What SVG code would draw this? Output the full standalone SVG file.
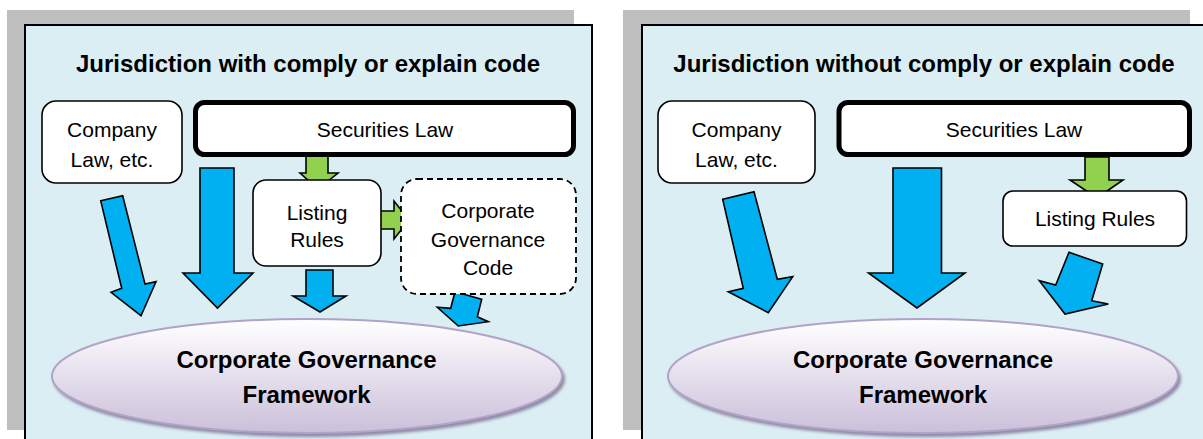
<svg xmlns="http://www.w3.org/2000/svg" width="1203" height="439" viewBox="0 0 1203 439">
  <defs>
    <linearGradient id="ellGrad" x1="0" y1="0" x2="0" y2="1">
      <stop offset="0" stop-color="#FFFFFF"/>
      <stop offset="1" stop-color="#CBBFDA"/>
    </linearGradient>
    <filter id="blur" x="-10%" y="-10%" width="120%" height="130%">
      <feGaussianBlur stdDeviation="1.5"/>
    </filter>
  </defs>
  <style>
    .shadow { fill: #BFBFBF; }
    .panel { fill: #DAEEF3; stroke: #000000; stroke-width: 2; }
    .box { fill: #FFFFFF; stroke: #000000; stroke-width: 1.6; }
    .thick { fill: #FFFFFF; stroke: #000000; stroke-width: 5; }
    .dashed { fill: #FFFFFF; stroke: #000000; stroke-width: 1.8; stroke-dasharray: 6 4; }
    .blue { fill: #00B0F0; stroke: #000000; stroke-width: 1.6; stroke-linejoin: miter; }
    .green { fill: #92D050; stroke: #000000; stroke-width: 1.6; stroke-linejoin: miter; }
    .ell { fill: url(#ellGrad); stroke: #B3A2C7; stroke-width: 2; }
    .ellsh { fill: #8F8AA6; filter: url(#blur); }
    text { font-family: "Liberation Sans", Arial, sans-serif; fill: #000000; text-anchor: middle; }
    .title { font-size: 24px; font-weight: bold; }
    .lbl { font-size: 21px; }
    .big { font-size: 24px; font-weight: bold; }
  </style>

  <!-- Left panel -->
  <g id="panel-left">
    <rect class="shadow" x="7" y="10" width="567" height="420"/>
    <rect class="panel" x="25" y="25" width="567" height="430"/>
    <text class="title" x="308" y="72">Jurisdiction with comply or explain code</text>
  </g>

  <!-- Right panel -->
  <g id="panel-right">
    <rect class="shadow" x="623" y="10" width="567" height="420"/>
    <rect class="panel" x="642" y="25" width="580" height="430"/>
    <text class="title" x="924" y="72">Jurisdiction without comply or explain code</text>
  </g>

  <!-- Connectors (block arrows) -->
  <g id="connectors">
    <!-- left panel -->
    <polygon class="green" points="306,156 328,156 328,173 338,173 318,189 300,173 306,173"/>
    <polygon class="green" points="377,211 394,211 394,201 409,220 394,239 394,229 377,229"/>
    <polygon class="blue" points="100.7,200.7 122.7,195.7 145,284 156,281.7 141,315.7 111,292.3 121.7,288.3"/>
    <polygon class="blue" points="200,168 234,168 234,273 253,273 217.5,308 183,273 200,273"/>
    <polygon class="blue" points="306,270 333,270 333,296 346,296 320,312 293,296 306,296"/>
    <polygon class="blue" points="455,291.7 481.7,299.3 477.3,316.7 488.3,321.7 458.3,326 437.3,307.3 450.7,308.3"/>
    <!-- right panel -->
    <polygon class="green" points="1085,157 1109,157 1109,180 1123,180 1097,198 1070,180 1085,180"/>
    <polygon class="blue" points="722.7,199.3 754,191.7 777.3,279.3 792.7,276.7 768.3,312.7 728.3,291.7 743.3,288.3"/>
    <polygon class="blue" points="893,168 941.5,168 941.5,273 965,273 917,308 868.5,273 893,273"/>
    <polygon class="blue" points="1069,252.3 1102.7,264 1091.7,300.7 1108.3,304 1065,314 1039.3,280.7 1055.7,285"/>
  </g>

  <!-- Left nodes -->
  <g id="left-company-law">
    <rect class="box" x="42" y="101" width="140" height="82" rx="14"/>
    <text class="lbl" x="112" y="137">Company</text>
    <text class="lbl" x="112" y="167">Law, etc.</text>
  </g>
  <g id="left-securities-law">
    <rect class="thick" x="195.5" y="102.5" width="378" height="52" rx="9"/>
    <text class="lbl" x="385" y="137">Securities Law</text>
  </g>
  <g id="left-listing-rules">
    <rect class="box" x="253" y="180" width="128" height="86" rx="13"/>
    <text class="lbl" x="317" y="220">Listing</text>
    <text class="lbl" x="317" y="247">Rules</text>
  </g>
  <g id="left-cg-code">
    <rect class="dashed" x="401" y="179" width="175" height="115" rx="16"/>
    <text class="lbl" x="488" y="218">Corporate</text>
    <text class="lbl" x="488" y="247">Governance</text>
    <text class="lbl" x="488" y="275">Code</text>
  </g>
  <g id="left-framework">
    <ellipse class="ellsh" cx="309" cy="379" rx="256" ry="58"/>
    <ellipse class="ell" cx="307" cy="376" rx="255" ry="57"/>
    <text class="big" x="306.5" y="368">Corporate Governance</text>
    <text class="big" x="306.5" y="403">Framework</text>
  </g>

  <!-- Right nodes -->
  <g id="right-company-law">
    <rect class="box" x="658" y="101" width="157" height="82" rx="14"/>
    <text class="lbl" x="736.5" y="137">Company</text>
    <text class="lbl" x="736.5" y="167">Law, etc.</text>
  </g>
  <g id="right-securities-law">
    <rect class="thick" x="839" y="102.5" width="350.5" height="52" rx="9"/>
    <text class="lbl" x="1014" y="137">Securities Law</text>
  </g>
  <g id="right-listing-rules">
    <rect class="box" x="1003" y="191" width="183.5" height="55" rx="10"/>
    <text class="lbl" x="1095" y="226">Listing Rules</text>
  </g>
  <g id="right-framework">
    <ellipse class="ellsh" cx="925" cy="379" rx="256" ry="58"/>
    <ellipse class="ell" cx="923" cy="376" rx="255" ry="57"/>
    <text class="big" x="923" y="368">Corporate Governance</text>
    <text class="big" x="923" y="403">Framework</text>
  </g>
</svg>
